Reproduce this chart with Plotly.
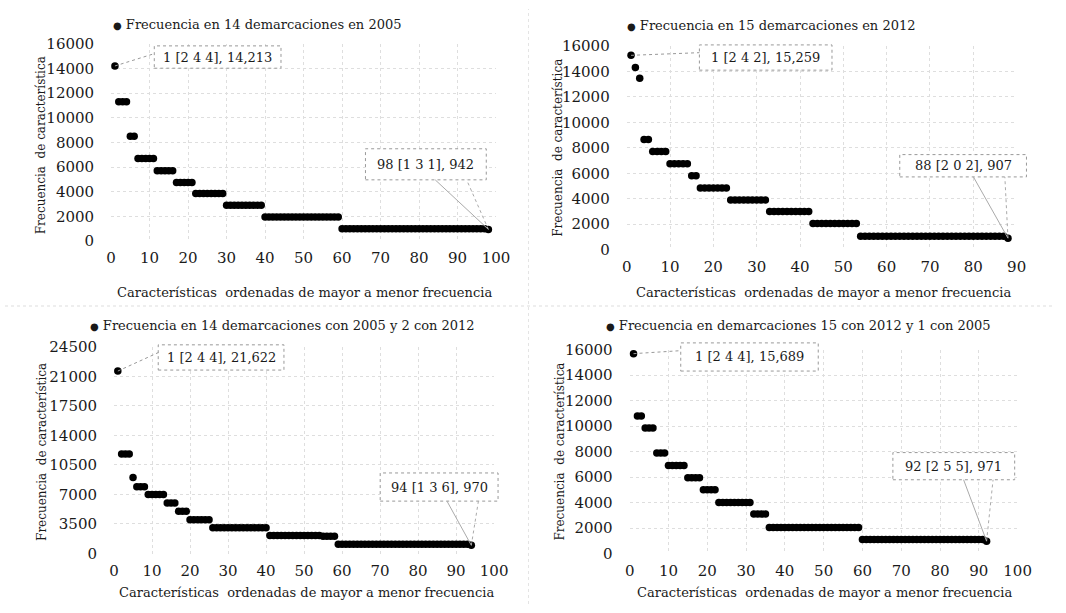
import plotly.graph_objects as go

W, H = 1066, 613

# ---- Data (run-length: step level values and how many characteristics share each) ----
p1_levels = [14213, 11300, 8500, 6700, 5700, 4750, 3850, 2900, 1950, 1000, 942]
p1_counts = [1, 3, 2, 5, 5, 5, 8, 10, 20, 38, 1]

p2_levels = [15259, 14300, 13450, 8650, 7700, 6750, 5800, 4850, 3900, 3000, 2050, 1050, 907]
p2_counts = [1, 1, 1, 2, 4, 5, 2, 7, 9, 10, 11, 34, 1]

p3_levels = [21622, 11800, 9000, 7900, 7000, 6000, 5000, 4000, 3050, 2150, 2050, 1100, 970]
p3_counts = [1, 3, 1, 3, 5, 3, 3, 6, 15, 14, 4, 35, 1]

p4_levels = [15689, 10800, 9850, 7900, 6900, 5950, 5000, 4000, 3100, 2050, 1100, 971]
p4_counts = [1, 2, 3, 3, 5, 4, 4, 9, 4, 24, 32, 1]

titles = ["Frecuencia en 14 demarcaciones en 2005",
          "Frecuencia en 15 demarcaciones en 2012",
          "Frecuencia en 14 demarcaciones con 2005 y 2 con 2012",
          "Frecuencia en demarcaciones 15 con 2012 y 1 con 2005"]
first_labels = ["1 [2 4 4], 14,213", "1 [2 4 2], 15,259", "1 [2 4 4], 21,622", "1 [2 4 4], 15,689"]
last_labels = ["98 [1 3 1], 942", "88 [2 0 2], 907", "94 [1 3 6], 970", "92 [2 5 5], 971"]

x_ranges = [[0, 100], [0, 90], [0, 100], [0, 100]]
y_ranges = [[0, 16000], [0, 16000], [0, 24500], [0, 16000]]
y_dticks = [2000, 2000, 3500, 2000]

def expand(levels, counts):
    vals = []
    for v, c in zip(levels, counts):
        vals += [v] * c
    return vals

series = [expand(p1_levels, p1_counts), expand(p2_levels, p2_counts),
          expand(p3_levels, p3_counts), expand(p4_levels, p4_counts)]

# ---- Layout geometry (window pixels) ----
boxes = [(108, 500, 36, 239), (633, 1030, 38, 248), (111, 498, 348, 561), (636, 1031, 351, 561)]
legend_pos = [(108, 16), (631, 17), (85, 326), (610, 326)]
ytitle_pos = [(37, 140), (563, 143), (37, 456), (565, 456)]
xtitle_pos = [(305, 292), (833, 292), (307, 601), (834, 601)]
first_box = [(152, 38, 281, 61), (707, 37, 842, 63), (156, 346, 284, 372), (688, 344, 828, 373)]
last_box = [(367, 144, 490, 176), (911, 150, 1040, 173), (382, 478, 502, 507), (904, 457, 1028, 485)]
last_leg_x = [(438, 470), (986, 1018), (450, 482), (976, 1006)]

def px(x):
    return x / W

def py(y):
    return 1 - y / H

fig = go.Figure()
font_fam = "DejaVu Serif"
txt_col = "#1a1a1a"
annotations = []
shapes = []

for i in range(4):
    n = i + 1
    xa = "x" if n == 1 else f"x{n}"
    ya = "y" if n == 1 else f"y{n}"
    vals = series[i]
    xs = list(range(1, len(vals) + 1))
    fig.add_trace(go.Scatter(x=xs, y=vals, mode="markers", xaxis=xa, yaxis=ya,
                             marker=dict(color="black", size=7.5),
                             cliponaxis=False, showlegend=False))
    l, r, t, b = boxes[i]
    xkey = "xaxis" if n == 1 else f"xaxis{n}"
    ykey = "yaxis" if n == 1 else f"yaxis{n}"
    fig.layout[xkey] = dict(domain=[px(l), px(r)], range=x_ranges[i], dtick=10, anchor=ya,
                            showgrid=True, gridcolor="#dedede", griddash="dot", gridwidth=1,
                            zeroline=False, showline=False, ticks="",
                            ticklabelstandoff=6,
                            tickfont=dict(family=font_fam, size=15, color=txt_col))
    fig.layout[ykey] = dict(domain=[py(b), py(t)], range=y_ranges[i], dtick=y_dticks[i], anchor=xa,
                            tickformat="d",
                            showgrid=True, gridcolor="#dedede", griddash="dot", gridwidth=1,
                            zeroline=False, showline=False, ticks="",
                            ticklabelstandoff=16,
                            tickfont=dict(family=font_fam, size=15, color=txt_col))
    lx, ly = legend_pos[i]
    annotations.append(dict(x=px(lx), y=py(ly), xref="paper", yref="paper", xanchor="left",
                            yanchor="middle", showarrow=False,
                            text="<span style='font-size:10px'>●</span> " + titles[i],
                            font=dict(family=font_fam, size=13, color=txt_col)))
    tx, ty = ytitle_pos[i]
    annotations.append(dict(x=px(tx), y=py(ty), xref="paper", yref="paper", showarrow=False,
                            xanchor="center", yanchor="middle",
                            textangle=-90, text="Frecuencia  de característica",
                            font=dict(family=font_fam, size=12, color=txt_col)))
    cx, cy = xtitle_pos[i]
    annotations.append(dict(x=px(cx), y=py(cy), xref="paper", yref="paper",
                            showarrow=False, xanchor="center", yanchor="middle",
                            text="Características  ordenadas de mayor a menor frecuencia",
                            font=dict(family=font_fam, size=13, color=txt_col)))
    bl, bt, br, bb = first_box[i]
    shapes.append(dict(type="rect", xref="paper", yref="paper", x0=px(bl), x1=px(br),
                       y0=py(bb), y1=py(bt), line=dict(color="#999", width=1, dash="dot"),
                       fillcolor="white", layer="above"))
    annotations.append(dict(x=px((bl + br) / 2), y=py((bt + bb) / 2), xref="paper", yref="paper",
                            showarrow=False, xanchor="center", yanchor="middle", text=first_labels[i],
                            font=dict(family=font_fam, size=13, color=txt_col)))
    shapes.append(dict(type="line", xref=xa, yref=ya, x0=xs[0], y0=vals[0],
                       x1=x_ranges[i][0] + (bl - l) / (r - l) * (x_ranges[i][1] - x_ranges[i][0]),
                       y1=y_ranges[i][1] * (b - (bt + 8)) / (b - t),
                       line=dict(color="#999", width=1, dash="dot")))
    bl, bt, br, bb = last_box[i]
    shapes.append(dict(type="rect", xref="paper", yref="paper", x0=px(bl), x1=px(br),
                       y0=py(bb), y1=py(bt), line=dict(color="#999", width=1, dash="dot"),
                       fillcolor="white", layer="above"))
    annotations.append(dict(x=px((bl + br) / 2), y=py((bt + bb) / 2), xref="paper", yref="paper",
                            showarrow=False, xanchor="center", yanchor="middle", text=last_labels[i],
                            font=dict(family=font_fam, size=13, color=txt_col)))
    for k, lxp in enumerate(last_leg_x[i]):
        shapes.append(dict(type="line", xref=xa, yref=ya, x0=xs[-1], y0=vals[-1],
                           x1=x_ranges[i][0] + (lxp - l) / (r - l) * (x_ranges[i][1] - x_ranges[i][0]),
                           y1=y_ranges[i][1] * (b - bb) / (b - t),
                           line=dict(color="#aaa", width=1, dash="solid" if k == 0 else "dot")))

shapes.append(dict(type="line", xref="paper", yref="paper", x0=0, x1=1, y0=py(306), y1=py(306),
                   line=dict(color="#ddd", width=1, dash="dot")))
shapes.append(dict(type="line", xref="paper", yref="paper", x0=px(533), x1=px(533), y0=0, y1=1,
                   line=dict(color="#e4e4e4", width=1, dash="dot")))

fig.update_layout(width=W, height=H, margin=dict(l=0, r=0, t=0, b=0),
                  paper_bgcolor="white", plot_bgcolor="white",
                  font=dict(family=font_fam),
                  annotations=annotations, shapes=shapes, showlegend=False)

fig.write_html("out.html", config={"displayModeBar": False},
               post_script="document.body.style.margin='0px';document.body.style.overflow='hidden';")
